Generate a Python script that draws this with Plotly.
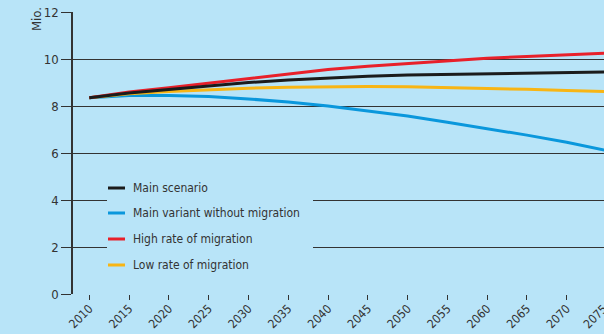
import plotly.graph_objects as go

years = [2010, 2015, 2020, 2025, 2030, 2035, 2040, 2045, 2050, 2055, 2060, 2065, 2070, 2075]

main_scenario = [8.35, 8.55, 8.70, 8.85, 9.00, 9.11, 9.20, 9.27, 9.32, 9.35, 9.37, 9.40, 9.42, 9.45]
without_migration = [8.35, 8.45, 8.45, 8.40, 8.30, 8.17, 8.00, 7.80, 7.57, 7.31, 7.04, 6.76, 6.46, 6.11]
high_migration = [8.35, 8.60, 8.78, 8.97, 9.17, 9.37, 9.55, 9.69, 9.81, 9.93, 10.03, 10.11, 10.18, 10.25]
low_migration = [8.35, 8.52, 8.62, 8.70, 8.76, 8.80, 8.82, 8.83, 8.82, 8.79, 8.75, 8.71, 8.66, 8.61]

series_names = ["Main scenario", "Main variant without migration",
                "High rate of migration", "Low rate of migration"]
series_values = [main_scenario, without_migration, high_migration, low_migration]
series_colors = ["#1b1b1b", "#0a97dc", "#e8202a", "#f8b514"]

y_ticks = [0, 2, 4, 6, 8, 10, 12]
x_ticks = list(range(2010, 2080, 5))

X_RANGE = [2007.95, 2074.69]
Y_RANGE = [0, 12]

W, H = 604, 334
M_L, M_R, M_T, M_B = 73, 0, 12, 40
PLOT_W = W - M_L - M_R
PLOT_H = H - M_T - M_B

BG = "#b8e4f8"
INK = "#333333"
FONT = "DejaVu Sans Condensed, sans-serif"
TICK_SIZE = 12


def px_x(px):
    """pixel column -> paper x"""
    return (px - M_L) / PLOT_W


def px_y(py):
    """pixel row -> paper y"""
    return (H - M_B - py) / PLOT_H


fig = go.Figure()
# draw order: blue, yellow, red, black on top
order = [1, 3, 2, 0]
for i in order:
    fig.add_trace(go.Scatter(
        x=years, y=series_values[i], mode="lines", name=series_names[i],
        line=dict(color=series_colors[i], width=3), showlegend=False,
    ))

fig.update_layout(
    width=W, height=H,
    margin=dict(l=M_L, r=M_R, t=M_T, b=M_B),
    paper_bgcolor=BG, plot_bgcolor=BG,
    font=dict(family=FONT, size=12, color=INK),
    showlegend=False,
)

fig.update_xaxes(
    range=X_RANGE, tickvals=x_ticks, ticktext=[str(v) for v in x_ticks],
    tickangle=-45, ticks="outside", ticklen=5, tickwidth=1.2, tickcolor=INK,
    ticklabelstandoff=-3,
    showgrid=False, zeroline=False, showline=False, automargin=False,
    tickfont=dict(family=FONT, size=TICK_SIZE, color=INK),
)
fig.update_yaxes(
    range=Y_RANGE, tickvals=y_ticks, ticks="outside", ticklen=10, tickwidth=1.2,
    tickcolor=INK, showgrid=True, gridcolor=INK, gridwidth=1.2,
    zeroline=False, showline=True, linecolor=INK, linewidth=1.5, automargin=False,
    tickfont=dict(family=FONT, size=13, color=INK),
)

# legend panel: a background block hides the grid lines behind it
fig.add_shape(
    type="rect", xref="paper", yref="paper", layer="above",
    x0=px_x(107), x1=px_x(313), y0=px_y(278), y1=px_y(176),
    fillcolor=BG, line=dict(width=0),
)
legend_rows = [188, 213, 239, 265]
for name, color, row in zip(series_names, series_colors, legend_rows):
    fig.add_shape(
        type="line", xref="paper", yref="paper", layer="above",
        x0=px_x(108), x1=px_x(125), y0=px_y(row), y1=px_y(row),
        line=dict(color=color, width=3),
    )
    fig.add_annotation(
        text=name, xref="paper", yref="paper", x=px_x(131), y=px_y(row),
        xanchor="left", yanchor="middle", showarrow=False,
        font=dict(family=FONT, size=12, color=INK),
    )

# the last tick label sits just past the right edge of the axis range
last_year = x_ticks[-1]
fig.add_annotation(
    text=str(last_year), xref="paper", yref="paper",
    x=1 + (last_year - X_RANGE[1]) / (X_RANGE[1] - X_RANGE[0]), y=0,
    xanchor="right", yanchor="top", textangle=-45, showarrow=False,
    xshift=6, yshift=-6, font=dict(family=FONT, size=TICK_SIZE, color=INK),
)

fig.add_annotation(
    text="Mio.", xref="paper", yref="paper", x=px_x(37), y=px_y(19),
    xanchor="center", yanchor="middle", textangle=-90, showarrow=False,
    font=dict(family=FONT, size=13, color=INK),
)

fig.write_html("out.html")
